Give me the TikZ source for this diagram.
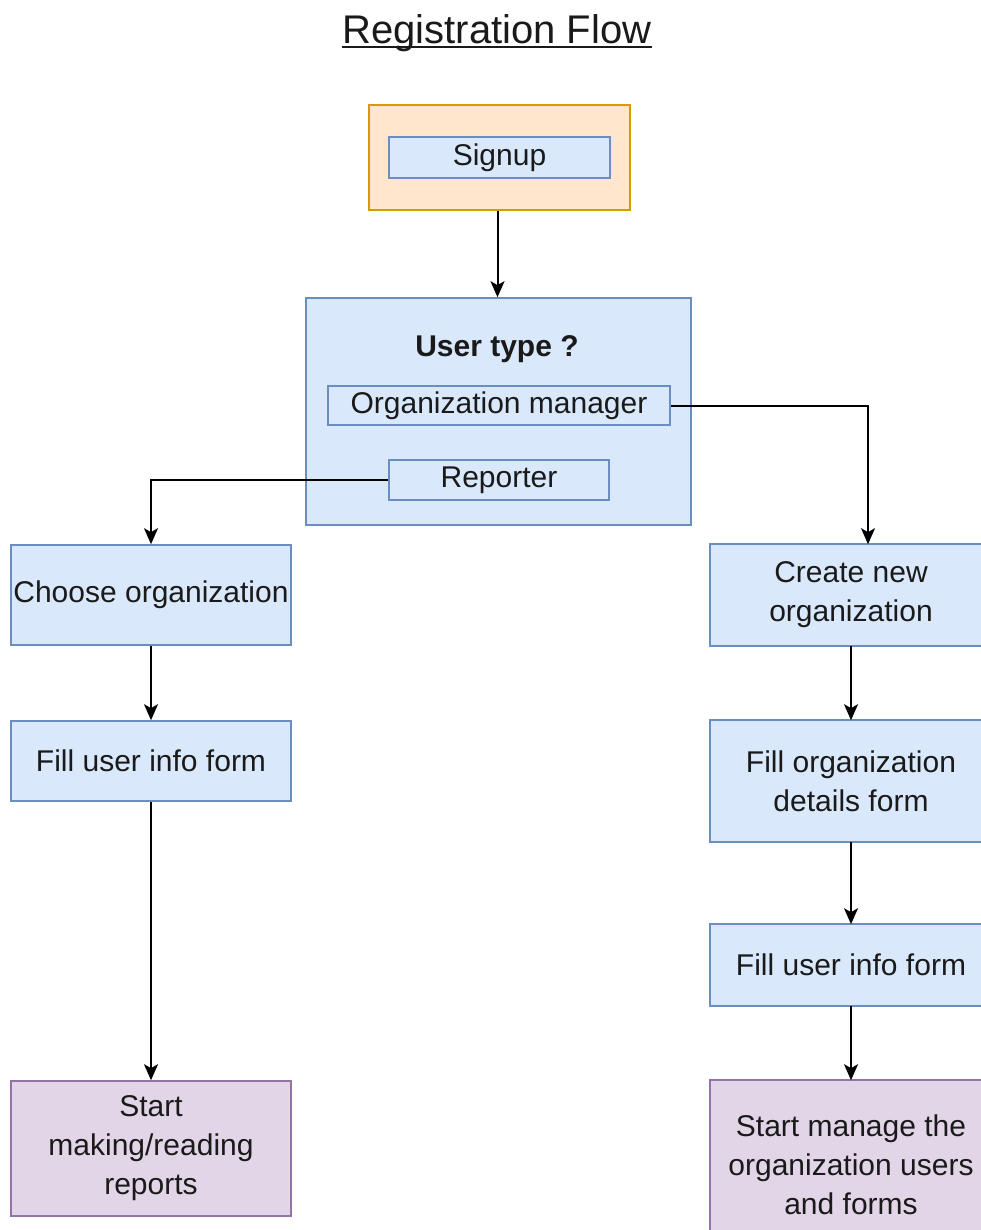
\documentclass[tikz,border=0pt]{standalone}
\usepackage{fontspec}
\setmainfont{Liberation Sans}
\usetikzlibrary{arrows.meta,backgrounds}
\definecolor{bfill}{HTML}{DAE8FC}
\definecolor{bline}{HTML}{6C8EBF}
\definecolor{ofill}{HTML}{FFE6CC}
\definecolor{oline}{HTML}{D79B00}
\definecolor{pfill}{HTML}{E1D5E7}
\definecolor{pline}{HTML}{9673A6}
\definecolor{txt}{HTML}{1A1A1A}
\tikzset{
  box/.style={draw=bline, fill=bfill, line width=1.6pt, rectangle, inner sep=0pt,
    align=center, text=txt, font=\fontsize{30}{39}\selectfont},
  obox/.style={box, draw=oline, fill=ofill},
  pbox/.style={box, draw=pline, fill=pfill},
  rtext/.style={box, draw=none, fill=none},
  rframe/.style={draw=bline, fill=bfill, line width=1.6pt},
  prframe/.style={draw=pline, fill=pfill, line width=1.6pt},
  conn/.style={line width=2pt, draw=black, -{Stealth[length=16pt,width=14pt,inset=4pt]}},
}
\begin{document}
\begin{tikzpicture}[x=1pt,y=-1pt]
\clip (0,0) rectangle (980,1230);
\useasboundingbox (0,0) rectangle (980,1230);

\node[anchor=base, inner sep=0pt, text=txt, font=\fontsize{40}{48}\selectfont] (title) at (497,44) {Registration Flow};
\draw[line width=2pt, txt] ([yshift=-3.5pt]title.base west) -- ([yshift=-3.5pt]title.base east);

\node[obox, minimum width=261pt, minimum height=105pt] (signupo) at (499.5,157.5) {};
\node[box, minimum width=221pt, minimum height=41pt] (signup) at (499.5,157.5) {Signup};

\node[box, minimum width=385pt, minimum height=227pt] (ut) at (498.5,411.5) {};
\node[inner sep=0pt, text=txt, font=\fontsize{30}{39}\selectfont\bfseries] (utlabel) at (497,349) {User type ?};
\node[box, minimum width=342pt, minimum height=39pt] (om) at (499,405.5) {Organization manager};
\node[box, minimum width=220pt, minimum height=40pt] (rep) at (499,480) {Reporter};

\node[box, minimum width=280pt, minimum height=100pt] (choose) at (151,595) {Choose organization};
\node[box, minimum width=280pt, minimum height=80pt] (fuil) at (151,761) {Fill user info form};
\node[pbox, minimum width=280pt, minimum height=135pt] (smr) at (151,1148.5) {Start\\making/reading\\reports};

\node[rtext, minimum width=280pt, minimum height=100pt] (cno) at (851,595) {Create new\\organization};
\node[rtext, minimum width=280pt, minimum height=120pt] (fod) at (851,781) {Fill organization\\details form};
\node[rtext, minimum width=280pt, minimum height=80pt] (fuir) at (851,965) {Fill user info form};
\node[rtext, minimum width=280pt, minimum height=168pt] (sm) at (851,1165) {Start manage the\\organization users\\and forms};

\begin{scope}[on background layer]
\fill[white] (0,0) rectangle (980,1230);
\draw[rframe] (cno.north west) rectangle ([xshift=30pt]cno.south east);
\draw[rframe] (fod.north west) rectangle ([xshift=30pt]fod.south east);
\draw[rframe] (fuir.north west) rectangle ([xshift=30pt]fuir.south east);
\draw[prframe] (sm.north west) rectangle ([xshift=30pt]sm.south east);
\end{scope}

\draw[conn] ([xshift=-2pt]signupo.south) -- ([xshift=-2pt]signupo.south |- ut.north);
\draw[conn] (om.east) -| ([xshift=17pt]cno.north);
\draw[conn] (rep.west) -| (choose.north);
\draw[conn] (choose.south) -- (fuil.north);
\draw[conn] (fuil.south) -- (smr.north);
\draw[conn] (cno.south) -- (fod.north);
\draw[conn] (fod.south) -- (fuir.north);
\draw[conn] (fuir.south) -- (sm.north);
\end{tikzpicture}
\end{document}
